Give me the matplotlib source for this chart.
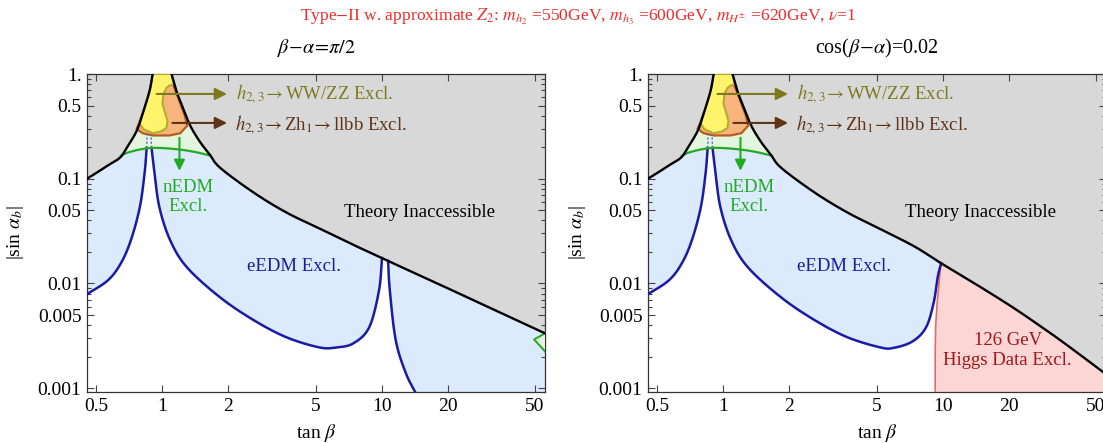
import numpy as np
import matplotlib.pyplot as plt
from matplotlib.ticker import FixedLocator, FixedFormatter, NullFormatter

plt.rcParams['font.family'] = ['Liberation Serif', 'DejaVu Serif']
plt.rcParams['mathtext.fontset'] = 'stix'

XMIN, XMAX = 0.455, 55.5
YMIN, YMAX = 0.00092, 1.0

# theory boundary, left branch (tan beta, |sin alpha_b|)
lb_x = [0.455, 0.50, 0.56, 0.641, 0.690, 0.766, 0.815, 0.877, 0.906]
lb_y = [0.100, 0.113, 0.132, 0.158, 0.197, 0.286, 0.416, 0.689, 1.0]
# theory boundary, right branch (left panel)
rb_x = [1.104, 1.162, 1.224, 1.331, 1.477, 1.640, 1.84, 2.62, 3.69, 5.21, 7.43, 9.73, 12.9, 20.0, 55.5]
rb_y = [1.0, 0.689, 0.518, 0.334, 0.230, 0.173, 0.127, 0.0735, 0.0475, 0.0335, 0.0234, 0.0180, 0.0137, 0.0090, 0.00334]
# theory boundary, right branch (right panel)
rb2_x = [1.104, 1.162, 1.224, 1.331, 1.477, 1.640, 1.84, 2.62, 3.69, 5.1, 7.43, 9.84, 14.45, 20.4, 27.0, 35.8, 55.5]
rb2_y = [1.0, 0.689, 0.518, 0.334, 0.230, 0.173, 0.127, 0.0735, 0.0475, 0.0338, 0.0226, 0.0156, 0.0096, 0.0061, 0.0041, 0.0027, 0.00136]

# eEDM contour pieces
c1_x = [0.455, 0.566, 0.648, 0.720, 0.791, 0.832, 0.851]
c1_y = [0.0079, 0.0107, 0.0155, 0.0257, 0.053, 0.112, 0.197]
c2_x = [0.895, 0.924, 0.973, 1.09, 1.30, 1.84, 2.62, 3.69, 5.21, 6.22, 7.43, 8.78, 9.73, 10.04]
c2_y = [0.197, 0.112, 0.053, 0.0257, 0.0142, 0.00735, 0.00445, 0.00306, 0.00245, 0.00245, 0.00268, 0.00381, 0.00857, 0.0175]
c2r_x = [0.895, 0.924, 0.973, 1.09, 1.30, 1.84, 2.62, 3.69, 5.21, 6.0, 7.3, 8.4, 9.1, 9.5, 9.84]
c2r_y = [0.197, 0.112, 0.053, 0.0257, 0.0142, 0.00735, 0.00445, 0.00306, 0.00245, 0.00243, 0.0028, 0.0038, 0.0065, 0.0115, 0.0156]
c3_x = [10.7, 10.9, 11.6, 12.9, 14.5]
c3_y = [0.0164, 0.0086, 0.00287, 0.00139, 0.00085]

# nEDM arc
arc_x = [0.650, 0.70, 0.80, 0.906, 1.05, 1.25, 1.45, 1.665]
arc_y = [0.166, 0.178, 0.191, 0.197, 0.195, 0.188, 0.178, 0.166]

# h2,3 -> Zh1 -> llbb (orange) and h2,3 -> WW/ZZ (yellow)
orange_x = [0.766, 0.815, 0.905, 1.081, 1.211, 1.30, 1.27, 1.20, 1.155, 1.12, 1.0, 0.88, 0.815]
orange_y = [0.299, 0.272, 0.259, 0.259, 0.272, 0.320, 0.40, 0.55, 0.68, 0.80, 0.75, 0.50, 0.416]
yellow_x = [0.785, 0.815, 0.877, 0.906, 1.104, 1.13, 1.08, 1.047, 1.014, 1.004, 1.036, 1.058, 1.047, 0.993, 0.905, 0.825]
yellow_y = [0.341, 0.416, 0.689, 1.0, 1.0, 0.80, 0.775, 0.736, 0.645, 0.518, 0.416, 0.357, 0.306, 0.284, 0.272, 0.296]

# Higgs data exclusion edge (right panel)
red_x = [9.25, 9.25, 9.30, 9.44, 9.73, 9.84]
red_y = [0.00085, 0.00216, 0.0040, 0.00645, 0.0128, 0.0156]

# small nEDM piece at large tan beta (left panel)
corner_x = [55.5, 49.5, 55.5]
corner_y = [0.00334, 0.00292, 0.00225]

xticks = [0.5, 1, 2, 5, 10, 20, 50]
xtick_labels = ['0.5', '1', '2', '5', '10', '20', '50']
yticks = [0.001, 0.005, 0.01, 0.05, 0.1, 0.5, 1.0]
ytick_labels = ['0.001', '0.005', '0.01', '0.05', '0.1', '0.5', '1.']

GRAY = '#d8d8d8'
LBLUE = '#dbeafc'
LGREEN = '#e3f5de'
BLUE = '#1a1aa5'
GREEN = '#22aa22'
OLIVE = '#7d7a1e'
BROWN = '#5e3418'


def smooth(x, y, n=16):
    # Catmull-Rom through the read points, in log-log space
    P = np.column_stack([np.log10(x), np.log10(y)])
    P = np.vstack([2 * P[0] - P[1], P, 2 * P[-1] - P[-2]])
    t = np.linspace(0, 1, n, endpoint=False)[:, None]
    out = []
    for i in range(1, len(P) - 2):
        p0, p1, p2, p3 = P[i - 1], P[i], P[i + 1], P[i + 2]
        out.append(0.5 * (2 * p1 + (-p0 + p2) * t + (2 * p0 - 5 * p1 + 4 * p2 - p3) * t ** 2
                          + (-p0 + 3 * p1 - 3 * p2 + p3) * t ** 3))
    out.append(P[-2][None])
    out = np.vstack(out)
    return 10 ** out[:, 0], 10 ** out[:, 1]


LBx, LBy = smooth(lb_x, lb_y)
ARCx, ARCy = smooth(arc_x, arc_y)
C1x, C1y = smooth(c1_x, c1_y)
C3x, C3y = smooth(c3_x, c3_y)


def draw_panel(ax, right):
    if right:
        RBx, RBy = smooth(rb2_x, rb2_y)
        C2x, C2y = smooth(c2r_x, c2r_y)
    else:
        RBx, RBy = smooth(rb_x, rb_y)
        C2x, C2y = smooth(c2_x, c2_y)

    # theory inaccessible
    ax.fill(np.r_[0.4, LBx, 0.4], np.r_[LBy[0], LBy, 1.5], color=GRAY, lw=0)
    ax.fill(np.r_[RBx, 70, 70], np.r_[RBy, RBy[-1], 1.5], color=GRAY, lw=0)

    ml = LBy >= arc_y[0]
    mr = RBy >= arc_y[-1]
    # nEDM excluded band inside the funnel
    ax.fill(np.r_[ARCx, RBx[mr][::-1], LBx[ml][::-1]],
            np.r_[ARCy, RBy[mr][::-1], LBy[ml][::-1]], color=LGREEN, lw=0)

    # eEDM excluded
    if right:
        m2 = (~mr) & (RBx <= c2r_x[-1])
        bx = np.r_[C1x, C2x, RBx[m2][::-1], ARCx[::-1], LBx[~ml][::-1]]
        by = np.r_[C1y, C2y, RBy[m2][::-1], ARCy[::-1], LBy[~ml][::-1]]
    else:
        bx = np.r_[C1x, C2x, C3x, 70, 70, RBx[~mr][::-1], ARCx[::-1], LBx[~ml][::-1]]
        by = np.r_[C1y, C2y, C3y, 0.0005, RBy[-1], RBy[~mr][::-1], ARCy[::-1], LBy[~ml][::-1]]
    ax.fill(bx, by, color=LBLUE, lw=0)

    # collider exclusions
    ax.fill(orange_x, orange_y, facecolor='#f7b47d', edgecolor='#b85c1c', lw=1.6, zorder=3)
    ax.fill(yellow_x, yellow_y, facecolor='#fff46c', edgecolor='#b4ad2a', lw=1.5, zorder=4)

    if right:
        m3 = RBx > red_x[-1]
        ax.fill(np.r_[red_x, RBx[m3], 70, 70], np.r_[red_y, RBy[m3], RBy[-1], 0.0005],
                facecolor='#fcd5d5', edgecolor='none', zorder=2)
        ax.plot(red_x, red_y, color='#e46b6b', lw=1.2, zorder=5)
        ax.text(19.8, 0.0023, '126 GeV\nHiggs Data Excl.', color='#a0161a', fontsize=13.5,
                ha='center', va='center', linespacing=1.25, zorder=6)
    else:
        ax.plot(C3x, C3y, color=BLUE, lw=1.8, zorder=5)
        ax.fill(corner_x, corner_y, facecolor='#e3f5de', edgecolor='none', zorder=4)
        ax.plot(corner_x, corner_y, color=GREEN, lw=1.4, zorder=5)

    ax.plot(C1x, C1y, color=BLUE, lw=1.8, zorder=5)
    ax.plot(C2x, C2y, color=BLUE, lw=1.8, zorder=5)
    ax.plot([c1_x[-1], c1_x[-1] * 1.005], [c1_y[-1], 0.268], color='#5c5cd6', lw=1, ls=(0, (1.5, 1.5)), zorder=5)
    ax.plot([c2_x[0], c2_x[0] * 0.995], [c2_y[0], 0.268], color='#5c5cd6', lw=1, ls=(0, (1.5, 1.5)), zorder=5)
    ax.plot(ARCx, ARCy, color=GREEN, lw=1.6, zorder=5)
    ax.plot(LBx, LBy, color='black', lw=1.7, zorder=6)
    ax.plot(RBx, RBy, color='black', lw=1.7, zorder=6)

    # labels and arrows
    ax.annotate('', xy=(1.977, 0.645), xytext=(0.944, 0.645),
                arrowprops=dict(arrowstyle='-|>', color=OLIVE, lw=1.5, mutation_scale=18,
                                shrinkA=0, shrinkB=0), zorder=7)
    ax.annotate('', xy=(1.977, 0.341), xytext=(1.114, 0.341),
                arrowprops=dict(arrowstyle='-|>', color=BROWN, lw=1.5, mutation_scale=18,
                                shrinkA=0, shrinkB=0), zorder=7)
    ax.annotate('', xy=(1.2, 0.119), xytext=(1.2, 0.246),
                arrowprops=dict(arrowstyle='-|>', color=GREEN, lw=1.5, mutation_scale=16,
                                shrinkA=0, shrinkB=0), zorder=7)
    ax.text(2.18, 0.645, r'$h_{2,3}\!\rightarrow$WW/ZZ Excl.', color=OLIVE, fontsize=13.5,
            ha='left', va='center', zorder=7)
    ax.text(2.15, 0.325, r'$h_{2,3}\!\rightarrow$Zh$_1\!\rightarrow$llbb Excl.', color=BROWN,
            fontsize=13.5, ha='left', va='center', zorder=7)
    ax.text(1.31, 0.0674, 'nEDM\nExcl.', color=GREEN, fontsize=13.5, ha='center', va='center',
            linespacing=1.15, zorder=7)
    ax.text(6.75, 0.0475, 'Theory Inaccessible', color='black', fontsize=13.5, ha='left',
            va='center', zorder=7)
    ax.text(3.54 if right else 4.01, 0.0145, 'eEDM Excl.', color=BLUE, fontsize=13.5,
            ha='center', va='center', zorder=7)

    ax.set_xscale('log')
    ax.set_yscale('log')
    ax.set_xlim(XMIN, XMAX)
    ax.set_ylim(YMIN, YMAX)
    ax.xaxis.set_major_locator(FixedLocator(xticks))
    ax.xaxis.set_major_formatter(FixedFormatter(xtick_labels))
    ax.xaxis.set_minor_locator(FixedLocator([]))
    ax.yaxis.set_major_locator(FixedLocator(yticks))
    ax.yaxis.set_major_formatter(FixedFormatter(ytick_labels))
    minors = [m * d for d in (0.001, 0.01, 0.1) for m in (2, 3, 4, 6, 7, 8, 9)]
    ax.yaxis.set_minor_locator(FixedLocator(minors))
    ax.yaxis.set_minor_formatter(NullFormatter())
    ax.tick_params(which='both', direction='in', top=True, right=True, labelsize=14,
                   color='#444444', width=0.8)
    ax.tick_params(which='major', length=5, pad=4)
    ax.tick_params(which='minor', length=3)
    for s in ax.spines.values():
        s.set_color('#333333')
        s.set_linewidth(0.9)


fig = plt.figure(figsize=(11.03, 4.43), dpi=100)
W, H = 1103.0, 443.0
ax1 = fig.add_axes([87 / W, 1 - 392 / H, 458 / W, 318 / H])
ax2 = fig.add_axes([648 / W, 1 - 392 / H, 458 / W, 318 / H])
draw_panel(ax1, False)
draw_panel(ax2, True)

fig.text(578 / W, 1 - 17 / H,
         r'Type$-$II w. approximate $Z_2$: $m_{h_2}$ =550GeV, $m_{h_3}$ =600GeV, '
         r'$m_{H^{\pm}}$ =620GeV, $\nu$=1', color='#ee2b2b', fontsize=12.6, ha='center', va='center')
fig.text(316 / W, 1 - 48 / H, r'$\beta\!-\!\alpha\!=\!\pi/2$', fontsize=14.5, ha='center', va='center')
fig.text(877 / W, 1 - 48 / H, r'cos($\beta\!-\!\alpha$)=0.02', fontsize=14.5, ha='center', va='center')
for cx in (316, 877):
    fig.text(cx / W, 1 - 433 / H, r'tan $\beta$', fontsize=14, ha='center', va='center')
for cx in (15, 577):
    fig.text(cx / W, 1 - 233 / H, r'|sin $\alpha_b$|', fontsize=14, ha='center', va='center',
             rotation=90)

fig.savefig('out.png', dpi=100)
